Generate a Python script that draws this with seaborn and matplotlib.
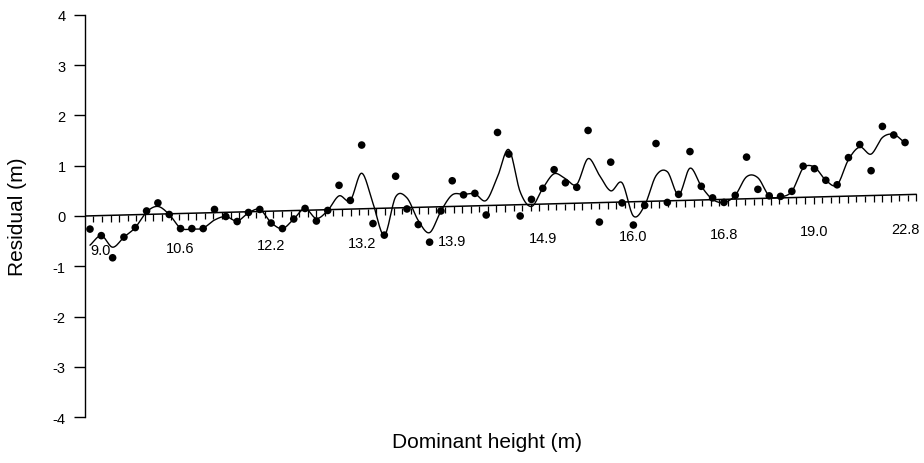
import numpy as np
import pandas as pd
import matplotlib
matplotlib.use("Agg")
import matplotlib.pyplot as plt
import seaborn as sns

# ---------------- data ----------------
residuals = [-0.26, -0.39, -0.83, -0.42, -0.23, 0.10, 0.26, 0.03, -0.25, -0.25,
             -0.25, 0.13, -0.01, -0.11, 0.07, 0.13, -0.14, -0.25, -0.06, 0.15,
             -0.10, 0.11, 0.61, 0.31, 1.41, -0.15, -0.38, 0.79, 0.14, -0.17,
             -0.52, 0.10, 0.70, 0.42, 0.45, 0.02, 1.66, 1.23, 0.00, 0.33,
             0.55, 0.92, 0.66, 0.57, 1.70, -0.12, 1.07, 0.26, -0.18, 0.21,
             1.44, 0.27, 0.43, 1.28, 0.59, 0.36, 0.27, 0.41, 1.17, 0.53,
             0.40, 0.39, 0.49, 0.99, 0.94, 0.71, 0.62, 1.16, 1.42, 0.90,
             1.78, 1.61, 1.46]

smooth_curve = [-0.58, -0.39, -0.62, -0.42, -0.23, 0.08, 0.19, 0.03, -0.24, -0.26,
                -0.24, -0.08, -0.01, -0.10, 0.06, 0.13, -0.13, -0.25, -0.06, 0.15,
                -0.05, 0.11, 0.40, 0.31, 0.85, 0.25, -0.38, 0.38, 0.36, -0.09,
                -0.33, 0.10, 0.42, 0.43, 0.44, 0.31, 0.78, 1.32, 0.48, 0.19,
                0.55, 0.84, 0.74, 0.63, 1.14, 0.81, 0.50, 0.66, 0.00, 0.21,
                0.80, 0.88, 0.42, 0.95, 0.59, 0.33, 0.27, 0.41, 0.78, 0.76,
                0.40, 0.38, 0.49, 0.95, 0.97, 0.71, 0.62, 1.12, 1.37, 1.23,
                1.56, 1.62, 1.45]

label_positions = [0, 8, 16, 24, 32, 40, 48, 56, 64, 72]
label_texts = ["9.0", "10.6", "12.2", "13.2", "13.9", "14.9", "16.0", "16.8", "19.0", "22.8"]
y_ticks = [4, 3, 2, 1, 0, -1, -2, -3, -4]

# ---------------- style ----------------
sns.set_theme(style="white")
plt.rcParams['font.family'] = ['Liberation Sans', 'DejaVu Sans']

obs = np.arange(len(residuals))


def catmull_rom(vals, samples=16):
    v = np.asarray(vals, float)
    p = np.concatenate([[2 * v[0] - v[1]], v, [2 * v[-1] - v[-2]]])
    xs, ys = [], []
    t = np.linspace(0, 1, samples, endpoint=False)
    h00 = 2 * t**3 - 3 * t**2 + 1
    h10 = t**3 - 2 * t**2 + t
    h01 = -2 * t**3 + 3 * t**2
    h11 = t**3 - t**2
    for i in range(len(v) - 1):
        p0, p1, p2, p3 = p[i], p[i + 1], p[i + 2], p[i + 3]
        m1 = (p2 - p0) / 2
        m2 = (p3 - p1) / 2
        xs.append(i + t)
        ys.append(h00 * p1 + h10 * m1 + h01 * p2 + h11 * m2)
    xs.append([len(v) - 1])
    ys.append([v[-1]])
    return np.concatenate(xs), np.concatenate(ys)


cx, cy = catmull_rom(smooth_curve)
curve_df = pd.DataFrame({"obs": cx, "fit": cy})
pts_df = pd.DataFrame({"obs": obs, "res": residuals})

W, H = 924, 464
fig = plt.figure(figsize=(W / 100, H / 100), dpi=100)
x_left, x_right = -0.44, 73.32
ax = fig.add_axes([85 / W, 1 - 418.3 / H, (920 - 85) / W, (418.3 - 15.7) / H])
ax.set_xlim(x_left, x_right)
ax.set_ylim(-4, 4)

sns.lineplot(data=curve_df, x="obs", y="fit", color="black", lw=1.0,
             estimator=None, sort=False, ax=ax)
sns.scatterplot(data=pts_df, x="obs", y="res", color="black", s=30,
                edgecolor="none", ax=ax, zorder=3)

# slanted x axis (as in the scanned reference)
axis_end = 73.0
axis_rise = 0.43


def axis_y(x):
    return axis_rise * (np.asarray(x, float) - x_left) / (axis_end - x_left)


ax.plot([x_left, axis_end], [axis_y(x_left), axis_y(axis_end)], color="black", lw=1.1)
tick_x = np.linspace(x_left + 0.75, axis_end, 97)
ax.vlines(tick_x, axis_y(tick_x) - 0.13, axis_y(tick_x), color="black", lw=0.9)
for i, (pos, txt) in enumerate(zip(label_positions, label_texts)):
    ax.text(pos, float(axis_y(pos)) - 0.68, txt, ha="left" if i == 0 else "center",
            va="center", fontsize=10.5, color="black")

# y axis
for s in ["top", "right", "bottom"]:
    ax.spines[s].set_visible(False)
ax.spines["left"].set_color("black")
ax.spines["left"].set_linewidth(1.0)
ax.set_yticks(y_ticks)
ax.set_yticklabels([str(v) for v in y_ticks])
ax.tick_params(axis="y", direction="out", length=8, width=1.0, pad=6,
               labelsize=10.5, colors="black", left=True)
ax.set_xticks([])
ax.set_xlabel("")
ax.set_ylabel("Residual (m)", fontsize=15, color="black")
ax.yaxis.set_label_coords((27 - 85) / 835, 0.5)

fig.text(487 / W, 1 - 443 / H, "Dominant height (m)", ha="center", va="center",
         fontsize=15, color="black")

fig.savefig("out.png", dpi=100, facecolor="white")
